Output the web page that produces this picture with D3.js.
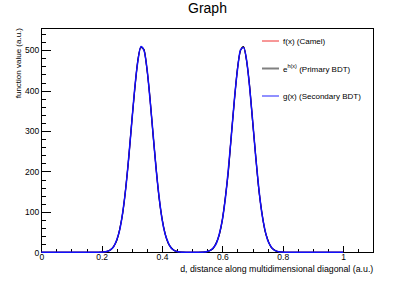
<html>
<head>
<title>Graph</title>
<script src="https://cdn.jsdelivr.net/npm/d3@7"></script>
<style type="text/css">
    body { margin: 0; background: #fff; }
    text { font-family: "Liberation Sans", Arial, sans-serif; }
    .axis path, .axis line { fill: none; stroke: #000; shape-rendering: crispEdges; }
    .axis text { font-size: 8.5px; fill: #000; }
</style>
</head>
<body>
<script type="text/javascript">
// sample points along the diagonal
var xs = [0, 0.1, 0.18,
    0.19, 0.2, 0.21, 0.22, 0.23, 0.24, 0.25, 0.26, 0.27, 0.28, 0.29, 0.3, 0.31, 0.32, 0.33, 0.34,
    0.35, 0.36, 0.37, 0.38, 0.39, 0.4, 0.41, 0.42, 0.43, 0.44, 0.45, 0.46, 0.47, 0.48,
    0.5, 0.52,
    0.53, 0.54, 0.55, 0.56, 0.57, 0.58, 0.59, 0.6, 0.61, 0.62, 0.63, 0.64, 0.65, 0.66, 0.67,
    0.68, 0.69, 0.7, 0.71, 0.72, 0.73, 0.74, 0.75, 0.76, 0.77, 0.78, 0.79, 0.8, 0.81,
    0.82, 0.9, 1.0];

// f(x) (Camel)
var fCamel = [0, 0, 0,
    0.1, 0.4, 1, 2.7, 6.5, 14.6, 30, 57, 99, 160, 237, 324, 408, 474, 508, 501,
    455, 381, 295, 210, 138, 83, 46, 24, 11, 4.9, 2, 0.7, 0.2, 0,
    0, 0,
    0.2, 0.7, 1.9, 4.8, 11, 23, 45, 82, 135, 207, 292, 379, 453, 500, 508,
    476, 411, 327, 240, 162, 101, 58, 31, 15, 6.7, 2.8, 1.1, 0.4, 0.1,
    0, 0, 0];

// e^h(x) (Primary BDT)
var hPrimary = [0, 0, 0,
    0.1, 0.5, 1.1, 2.9, 6.2, 15, 29, 58, 98, 161, 236, 326, 406, 476, 507, 502,
    453, 383, 293, 212, 136, 84, 47, 23, 12, 4.6, 2.1, 0.6, 0.2, 0,
    0, 0,
    0.2, 0.8, 1.8, 5.1, 10, 24, 44, 80, 138, 201, 294, 378, 455, 499, 509,
    474, 413, 325, 242, 160, 103, 57, 32, 14, 7, 2.6, 1.2, 0.3, 0.1,
    0, 0, 0];

// g(x) (Secondary BDT)
var gSecondary = [0, 0, 0,
    0.1, 0.4, 1.2, 2.6, 6.8, 14.2, 31, 56, 100, 159, 238, 323, 409, 473, 509, 500,
    456, 380, 296, 209, 139, 82, 46, 25, 10.5, 5, 1.9, 0.8, 0.2, 0,
    0, 0,
    0.3, 0.6, 2, 4.6, 11.4, 22, 46, 81, 134, 208, 291, 380, 452, 501, 507,
    477, 410, 328, 239, 163, 100, 59, 30, 15.5, 6.4, 3, 1, 0.5, 0.1,
    0, 0, 0];

var xMajor = [0, 0.2, 0.4, 0.6, 0.8, 1];
var xMinor = [0.05, 0.1, 0.15, 0.25, 0.3, 0.35, 0.45, 0.5, 0.55, 0.65, 0.7, 0.75, 0.85, 0.9, 0.95, 1.05];
var yMajor = [0, 100, 200, 300, 400, 500];
var yMinor = [20, 40, 60, 80, 120, 140, 160, 180, 220, 240, 260, 280, 320, 340, 360, 380, 420, 440, 460, 480, 520, 540];

var legendNames = ['f(x) (Camel)', 'e', 'g(x) (Secondary BDT)'];

var w = 415, h = 281;
var padL = 41.3, padR = 373.3, padT = 28, padB = 252.3;

var svg = d3.select('body').append('svg')
    .attr('width', w)
    .attr('height', h);

var xscale = d3.scaleLinear().domain([0, 1.1]).range([padL, padR]);
var yscale = d3.scaleLinear().domain([0, 555]).range([padB, padT]);

// frame
svg.append('rect')
    .attr('x', padL).attr('y', padT)
    .attr('width', padR - padL).attr('height', padB - padT)
    .attr('fill', 'none')
    .attr('stroke', '#000')
    .attr('shape-rendering', 'crispEdges');

// axes, ticks point into the frame
svg.append('g').attr('class', 'axis')
    .attr('transform', 'translate(0,' + padB + ')')
    .call(d3.axisBottom(xscale).tickValues(xMajor).tickSize(-6.7).tickSizeOuter(0).tickPadding(2)
        .tickFormat(function(d) { return d3.format('')(d); }));
svg.append('g').attr('class', 'axis')
    .attr('transform', 'translate(0,' + padB + ')')
    .call(d3.axisBottom(xscale).tickValues(xMinor).tickSize(-3.4).tickSizeOuter(0).tickFormat(''));
svg.append('g').attr('class', 'axis')
    .attr('transform', 'translate(' + padL + ',0)')
    .call(d3.axisLeft(yscale).tickValues(yMajor).tickSize(-10).tickSizeOuter(0).tickPadding(2));
svg.append('g').attr('class', 'axis')
    .attr('transform', 'translate(' + padL + ',0)')
    .call(d3.axisLeft(yscale).tickValues(yMinor).tickSize(-5).tickSizeOuter(0).tickFormat(''));

// curves
var line = function(vals) {
    return d3.line()
        .x(function(d, i) { return xscale(xs[i]); })
        .y(function(d) { return yscale(d); })
        .curve(d3.curveMonotoneX)(vals);
};
svg.append('path').attr('d', line(fCamel))
    .attr('fill', 'none').attr('stroke', '#ff0000').attr('stroke-width', 1.1);
svg.append('path').attr('d', line(hPrimary))
    .attr('fill', 'none').attr('stroke', '#000000').attr('stroke-width', 1.2);
svg.append('path').attr('d', line(gSecondary))
    .attr('fill', 'none').attr('stroke', '#1010ff').attr('stroke-width', 1.5);

// legend
var legendColors = ['#f03030', '#808080', '#9090ff'];
var legendWidths = [1, 2, 2];
var legendY = [41, 68.5, 96];
var lg = svg.append('g');
lg.selectAll('line').data(legendNames).enter().append('line')
    .attr('x1', 262).attr('x2', 279)
    .attr('y1', function(d, i) { return legendY[i]; })
    .attr('y2', function(d, i) { return legendY[i]; })
    .attr('stroke', function(d, i) { return legendColors[i]; })
    .attr('stroke-width', function(d, i) { return legendWidths[i]; });
var lt = lg.selectAll('text').data(legendNames).enter().append('text')
    .attr('x', 283)
    .attr('y', function(d, i) { return legendY[i] + 3; })
    .style('font-size', '8px')
    .text(function(d) { return d; });
// superscript for the primary BDT entry
var e = d3.select(lt.nodes()[1]).text('e');
e.append('tspan').text('h(x)').style('font-size', '5.5px').attr('dy', -4);
e.append('tspan').text(' (Primary BDT)').attr('dy', 4);

// titles
svg.append('text')
    .attr('x', w / 2).attr('y', 12.5)
    .attr('text-anchor', 'middle')
    .style('font-size', '14px')
    .text('Graph');
svg.append('text')
    .attr('x', padR).attr('y', 271.5)
    .attr('text-anchor', 'end')
    .style('font-size', '8.8px')
    .text('d, distance along multidimensional diagonal (a.u.)');
svg.append('text')
    .attr('transform', 'translate(21,' + padT + ') rotate(-90)')
    .attr('text-anchor', 'end')
    .style('font-size', '8px')
    .text('function value (a.u.)');
</script>
</body>
</html>
